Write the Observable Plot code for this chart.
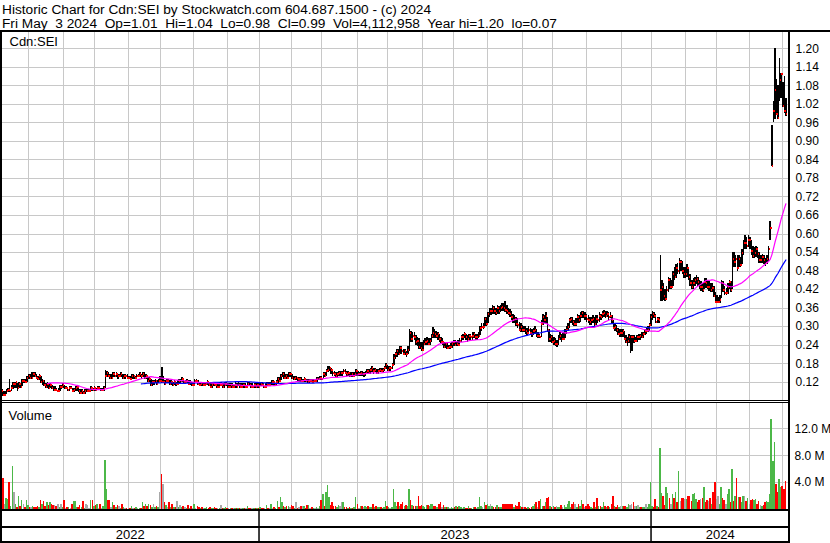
<!DOCTYPE html>
<html><head><meta charset="utf-8">
<script src="https://cdn.jsdelivr.net/npm/d3@7"></script>
<script src="https://cdn.jsdelivr.net/npm/@observablehq/plot@0.6"></script>
<style>
body{margin:0;background:#fff;}
#chart{position:relative;width:830px;height:543px;overflow:hidden;background:#fff;font-family:"Liberation Sans",Arial,sans-serif;}
#chart svg{position:absolute;left:0;overflow:visible;}
.hdr{position:absolute;left:2px;font-size:13.7px;line-height:15px;white-space:pre;color:#000;}
.ln{position:absolute;background:#000;}
</style></head><body><div id="chart"></div>
<script>
// ---- data (one entry per trading day, May 2022 - May 3 2024) ----
const hi = [
.095,.09,.09,.095,.10,.13,.11,.12,.12,.12,
.115,.12,.115,.13,.13,.13,.14,.145,.145,.15,
.15,.15,.145,.14,.145,.14,.13,.125,.115,.12,
.115,.115,.11,.105,.105,.10,.10,.11,.11,.115,
.11,.105,.10,.105,.105,.10,.10,.105,.105,.10,
.095,.095,.09,.095,.095,.095,.095,.105,.10,.105,
.10,.105,.105,.10,.10,.105,.158,.155,.15,.145,
.145,.15,.15,.15,.145,.145,.15,.145,.145,.145,
.145,.14,.14,.145,.145,.14,.145,.145,.15,.145,
.15,.15,.145,.14,.135,.13,.125,.125,.13,.125,
.13,.14,.168,.14,.125,.13,.13,.125,.125,.12,
.125,.12,.125,.13,.13,.135,.13,.125,.13,.125,
.125,.12,.12,.13,.13,.125,.12,.12,.12,.115,
.12,.125,.12,.115,.115,.12,.12,.115,.115,.12,
.12,.115,.12,.12,.115,.115,.115,.115,.11,.12,
.115,.12,.115,.115,.115,.115,.11,.12,.12,.115,
.115,.115,.115,.12,.115,.12,.12,.115,.115,.12,
.12,.12,.125,.125,.12,.125,.135,.135,.145,.15,
.15,.145,.145,.15,.152,.145,.14,.14,.14,.135,
.135,.135,.13,.135,.13,.13,.13,.13,.13,.13,
.13,.135,.135,.14,.14,.15,.15,.16,.171,.17,
.165,.16,.155,.15,.15,.155,.155,.155,.16,.16,
.155,.155,.15,.15,.15,.15,.16,.155,.15,.155,
.155,.15,.155,.16,.16,.165,.17,.165,.165,.16,
.16,.165,.165,.165,.17,.18,.175,.17,.17,.18,
.21,.215,.225,.225,.235,.235,.225,.225,.22,.235,
.29,.285,.28,.28,.27,.265,.26,.25,.25,.255,
.26,.265,.26,.26,.275,.297,.29,.285,.28,.275,
.265,.26,.25,.25,.245,.24,.245,.25,.255,.255,
.25,.255,.26,.27,.275,.28,.275,.27,.275,.275,
.28,.28,.275,.275,.28,.30,.31,.31,.33,.33,
.345,.36,.36,.37,.365,.36,.37,.365,.37,.375,
.375,.38,.37,.36,.355,.35,.34,.335,.33,.325,
.315,.31,.305,.30,.30,.295,.30,.295,.29,.295,
.30,.29,.28,.275,.32,.34,.335,.345,.33,.29,
.275,.27,.265,.26,.255,.27,.28,.275,.28,.29,
.30,.31,.325,.33,.33,.32,.325,.34,.335,.345,
.35,.35,.345,.34,.335,.33,.33,.335,.33,.335,
.335,.345,.34,.35,.352,.35,.35,.345,.345,.335,
.32,.31,.305,.295,.29,.29,.29,.285,.27,.265,
.275,.27,.27,.27,.265,.27,.275,.275,.28,.28,
.29,.295,.30,.31,.34,.35,.345,.34,.33,.33,
.53,.45,.44,.42,.43,.46,.455,.45,.48,.49,
.50,.505,.52,.515,.51,.49,.49,.50,.49,.47,
.45,.455,.46,.465,.46,.45,.445,.44,.455,.455,
.45,.445,.44,.44,.43,.41,.40,.395,.40,.45,
.445,.43,.425,.44,.45,.445,.54,.54,.53,.53,
.53,.525,.55,.58,.595,.59,.595,.59,.58,.56,
.555,.56,.555,.54,.53,.535,.53,.52,.53,.56,
.641,.95,1.03,1.20,1.10,1.08,1.17,1.12,1.09,1.11,1.04];
const lo = [
.075,.075,.075,.08,.085,.085,.09,.095,.10,.10,
.09,.10,.10,.105,.115,.115,.12,.13,.13,.13,
.135,.135,.13,.125,.125,.115,.11,.105,.10,.10,
.095,.10,.095,.09,.09,.09,.09,.09,.095,.10,
.095,.095,.09,.09,.095,.085,.085,.09,.09,.085,
.08,.08,.08,.08,.085,.085,.085,.09,.09,.09,
.09,.095,.095,.09,.09,.09,.10,.135,.135,.13,
.13,.135,.135,.135,.13,.135,.135,.13,.13,.13,
.13,.13,.13,.13,.13,.13,.13,.135,.135,.13,
.135,.13,.13,.12,.12,.105,.105,.11,.115,.11,
.115,.12,.115,.115,.11,.115,.115,.11,.11,.105,
.11,.105,.11,.115,.115,.12,.115,.115,.115,.11,
.11,.105,.105,.11,.115,.11,.105,.105,.105,.105,
.105,.11,.105,.10,.10,.105,.105,.10,.10,.105,
.105,.10,.10,.105,.10,.10,.10,.10,.10,.10,
.10,.105,.10,.10,.10,.10,.10,.105,.105,.10,
.10,.10,.10,.10,.10,.105,.105,.10,.10,.105,
.105,.105,.11,.11,.105,.11,.115,.12,.125,.135,
.13,.13,.13,.135,.135,.13,.125,.125,.125,.12,
.12,.12,.12,.12,.12,.115,.115,.12,.115,.12,
.12,.12,.125,.125,.125,.13,.135,.14,.15,.155,
.145,.14,.14,.135,.135,.14,.14,.14,.145,.145,
.14,.14,.135,.135,.135,.135,.14,.14,.14,.14,
.14,.135,.14,.145,.145,.145,.15,.145,.15,.145,
.145,.15,.15,.15,.155,.16,.155,.155,.155,.16,
.175,.195,.20,.205,.21,.21,.205,.205,.20,.21,
.22,.25,.25,.255,.24,.235,.225,.225,.22,.225,
.24,.24,.24,.24,.25,.26,.26,.26,.255,.25,
.245,.24,.23,.23,.225,.225,.225,.23,.235,.235,
.235,.235,.24,.25,.255,.26,.255,.25,.255,.255,
.255,.26,.255,.255,.26,.27,.285,.29,.30,.30,
.31,.33,.335,.34,.34,.335,.34,.34,.345,.35,
.35,.345,.34,.335,.33,.32,.31,.31,.30,.295,
.285,.28,.28,.28,.275,.27,.275,.27,.265,.27,
.275,.265,.26,.26,.265,.305,.31,.31,.28,.25,
.25,.245,.24,.235,.233,.24,.255,.25,.255,.26,
.275,.285,.295,.31,.305,.30,.30,.31,.31,.315,
.325,.325,.32,.315,.31,.305,.305,.31,.30,.305,
.31,.315,.32,.325,.33,.325,.33,.32,.325,.31,
.29,.285,.28,.27,.265,.265,.265,.255,.245,.235,
.245,.213,.22,.245,.25,.25,.255,.255,.26,.26,
.27,.275,.28,.285,.30,.32,.325,.31,.31,.31,
.38,.38,.385,.38,.385,.41,.42,.42,.43,.45,
.455,.47,.47,.48,.47,.455,.455,.46,.45,.43,
.42,.42,.43,.435,.43,.42,.415,.41,.42,.425,
.42,.415,.41,.41,.395,.375,.375,.375,.375,.39,
.41,.40,.40,.405,.42,.41,.42,.49,.49,.48,
.49,.49,.50,.53,.55,.55,.555,.55,.53,.52,
.52,.525,.52,.505,.505,.505,.50,.495,.50,.51,
.58,.82,.96,.97,.99,.97,1.03,1.04,1.01,.99,.98];
const cl = [
.09,.08,.08,.09,.095,.09,.10,.115,.115,.12,
.10,.115,.105,.125,.125,.12,.135,.14,.135,.135,
.145,.14,.135,.13,.14,.12,.125,.11,.105,.115,
.10,.11,.10,.095,.095,.09,.09,.105,.105,.11,
.10,.10,.095,.10,.10,.09,.095,.10,.105,.09,
.085,.09,.085,.09,.09,.09,.09,.10,.095,.10,
.095,.10,.10,.095,.095,.10,.14,.15,.14,.135,
.135,.145,.14,.145,.14,.14,.145,.135,.14,.14,
.135,.135,.13,.14,.14,.135,.14,.14,.145,.14,
.145,.135,.14,.125,.13,.11,.12,.12,.125,.115,
.125,.125,.12,.12,.115,.125,.125,.115,.12,.11,
.12,.115,.115,.125,.125,.13,.12,.12,.125,.115,
.12,.11,.11,.125,.125,.115,.11,.115,.11,.11,
.115,.12,.11,.105,.11,.115,.11,.105,.105,.11,
.11,.105,.11,.115,.105,.105,.11,.105,.105,.11,
.105,.11,.105,.105,.11,.105,.105,.115,.11,.105,
.105,.11,.105,.11,.105,.115,.11,.105,.105,.115,
.11,.11,.12,.12,.115,.12,.13,.125,.14,.145,
.135,.14,.135,.145,.145,.135,.13,.135,.135,.13,
.13,.125,.125,.13,.125,.12,.125,.125,.12,.125,
.125,.13,.13,.135,.13,.145,.14,.155,.16,.165,
.16,.15,.145,.14,.145,.15,.15,.15,.155,.15,
.145,.15,.14,.145,.14,.145,.155,.145,.145,.15,
.145,.145,.15,.155,.15,.16,.165,.155,.16,.15,
.155,.16,.155,.16,.165,.175,.16,.165,.165,.175,
.20,.21,.22,.21,.23,.22,.21,.22,.21,.225,
.28,.26,.27,.265,.25,.255,.235,.23,.225,.245,
.25,.255,.245,.255,.27,.28,.275,.27,.275,.26,
.25,.25,.235,.245,.23,.235,.235,.245,.25,.24,
.245,.24,.255,.265,.265,.275,.265,.26,.27,.265,
.27,.275,.265,.265,.27,.295,.30,.30,.325,.31,
.34,.35,.35,.36,.35,.345,.36,.35,.36,.365,
.36,.355,.35,.345,.34,.33,.32,.325,.31,.305,
.29,.30,.29,.29,.285,.28,.29,.28,.275,.285,
.29,.27,.27,.265,.31,.33,.32,.335,.29,.26,
.265,.25,.255,.245,.245,.26,.27,.26,.26,.28,
.29,.30,.32,.325,.315,.31,.31,.33,.32,.335,
.345,.335,.335,.325,.32,.315,.32,.325,.31,.325,
.32,.335,.33,.34,.345,.335,.34,.33,.335,.32,
.295,.30,.29,.275,.28,.28,.285,.26,.25,.255,
.265,.265,.265,.255,.255,.265,.265,.27,.265,.275,
.285,.285,.29,.305,.33,.34,.335,.315,.325,.32,
.42,.43,.40,.39,.42,.45,.43,.43,.47,.46,
.49,.48,.51,.51,.48,.47,.47,.49,.46,.44,
.43,.44,.45,.455,.445,.43,.43,.42,.445,.44,
.43,.43,.42,.425,.40,.38,.38,.38,.385,.44,
.42,.41,.41,.43,.445,.42,.52,.51,.52,.49,
.52,.50,.54,.57,.57,.56,.58,.58,.545,.53,
.54,.55,.535,.515,.515,.525,.515,.505,.52,.55,
.62,.82,1.00,1.065,.99,.975,1.10,1.12,1.015,1.00,.99];
const vol = [ // millions of shares
2.0,4.6,0.8,1.6,1.5,4.0,0.5,6.4,2.5,0.7,
0.3,1.9,0.5,1.4,0.8,0.3,1.3,0.6,0.3,0.3,
0.4,0.3,0.3,0.5,0.3,1.4,0.7,1.2,0.4,1.0,
0.6,1.0,0.8,0.6,0.6,0.5,0.7,0.3,0.7,0.3,
1.4,0.2,0.3,0.3,0.2,0.7,1.2,1.2,0.3,0.3,
0.6,0.3,1.2,0.2,0.7,0.6,0.2,1.3,1.3,0.5,
0.6,0.8,0.2,0.8,0.2,0.4,7.3,2.9,1.3,1.3,
0.3,1.0,0.6,0.3,0.6,0.4,0.2,0.7,0.3,0.2,
0.2,0.2,0.2,0.5,0.2,0.2,0.3,0.2,0.2,0.2,
1.0,0.4,0.7,0.4,0.7,0.6,0.3,0.7,0.3,0.4,
0.3,2.5,5.2,3.7,1.0,0.6,0.3,1.0,0.3,0.8,
0.3,0.3,1.2,0.3,0.6,0.3,0.4,0.3,0.2,0.6,
0.2,0.4,0.2,0.7,0.2,0.4,0.3,0.2,0.3,0.2,
0.2,0.3,0.2,0.3,0.2,0.2,0.3,0.1,0.2,0.2,
0.6,0.2,0.2,0.3,0.2,0.1,0.2,0.2,0.1,0.2,
0.2,0.1,0.2,0.1,0.2,0.2,0.1,0.4,0.2,0.2,
0.1,0.2,0.1,0.2,0.2,0.3,0.2,0.2,0.1,0.6,
0.2,0.2,0.8,0.2,0.3,0.2,1.2,0.3,1.8,1.0,
0.4,0.3,0.4,0.4,0.3,0.6,0.5,0.2,1.0,0.2,
0.3,0.5,0.4,0.5,0.2,0.6,0.6,0.2,0.3,0.2,
0.2,0.3,0.2,0.4,1.3,2.2,0.4,2.5,3.6,1.8,
0.6,1.1,0.5,0.4,0.3,0.6,0.5,1.0,1.0,0.3,
0.3,0.2,0.3,0.2,0.2,0.3,1.8,0.8,0.2,0.4,
0.4,0.3,0.4,0.3,0.4,0.3,0.3,0.8,0.3,0.4,
0.3,0.3,0.3,0.2,0.3,1.2,0.5,0.3,0.2,0.3,
3.0,1.0,0.4,1.1,0.5,0.8,1.1,0.4,0.6,0.4,
3.0,1.4,0.6,0.4,0.5,0.4,1.9,0.5,0.6,0.4,
0.3,0.6,0.6,0.4,0.8,0.7,0.5,0.4,0.3,0.8,
1.0,0.3,0.6,0.3,0.3,0.3,0.2,0.3,0.2,0.3,
0.4,0.3,0.4,0.3,0.2,0.3,0.2,0.2,0.4,0.2,
0.2,0.3,0.3,0.2,0.3,1.8,0.5,0.3,1.1,0.6,
0.8,0.4,0.7,0.4,0.3,0.3,0.6,0.3,0.3,0.3,
0.7,0.7,0.7,0.7,0.7,0.7,0.7,0.3,0.6,0.4,
1.0,0.4,0.3,0.3,0.3,0.2,0.3,0.2,0.3,0.5,
0.8,1.0,0.3,1.2,1.5,0.5,0.5,1.0,1.6,1.8,
0.4,0.3,0.4,0.3,0.4,0.3,0.3,0.6,0.3,0.6,
0.3,0.7,1.2,0.3,0.8,1.1,0.7,0.3,0.7,0.4,
1.3,0.8,0.3,0.5,0.7,0.4,0.3,0.2,1.0,0.3,
1.6,0.5,0.4,0.3,1.0,0.4,0.3,0.5,0.3,0.7,
1.9,0.4,0.3,0.6,0.3,0.5,0.5,0.5,0.4,0.3,
0.7,0.6,0.7,1.0,0.4,0.4,0.6,0.3,0.3,0.3,
0.3,0.7,0.3,0.8,4.0,0.4,0.3,1.5,0.5,0.3,
9.1,2.4,1.9,0.6,3.2,2.4,1.7,0.8,2.2,1.7,
2.6,1.0,5.6,1.2,1.7,1.7,1.5,1.5,2.0,2.0,
1.2,2.2,2.4,1.5,1.0,1.3,1.5,1.7,3.3,1.0,
1.4,1.2,1.7,0.8,2.6,4.0,1.5,1.9,0.8,3.2,
1.7,1.4,0.8,2.2,3.0,1.0,5.9,1.2,1.9,4.6,
1.8,1.8,1.0,1.9,2.0,1.2,1.7,0.8,1.4,1.5,
1.4,1.5,0.8,1.2,0.6,0.5,0.6,1.0,1.2,1.0,
2.2,13.4,7.1,10.0,3.7,2.5,4.4,3.2,3.4,3.0,4.1];
const priceTicks = [0.12,0.18,0.24,0.30,0.36,0.42,0.48,0.54,0.60,0.66,0.72,0.78,0.84,0.90,0.96,1.02,1.08,1.14,1.20];
const volTicks = [4, 8, 12];
const monthStarts = [17,39,59,81,101,122,144,164,185,204,227,246,268,288,310,332,351,373,395,414,436,456,477,498];
const years = ["2022", "2023", "2024"];
const yearStarts = [164, 414];
const headerLines = [
  "Historic Chart for Cdn:SEI by Stockwatch.com 604.687.1500 - (c) 2024",
  "Fri May  3 2024  Op=1.01  Hi=1.04  Lo=0.98  Cl=0.99  Vol=4,112,958  Year hi=1.20  lo=0.07"
];

// ---- build ----
const bars = cl.map((c, i) => ({i, hi: hi[i], lo: lo[i], cl: c, vol: vol[i],
  dir: i === 0 ? 0 : Math.sign(Math.round((c - cl[i - 1]) * 1000))}));
const xDomain = [-0.22, 502.3];
const FONT = '"Liberation Sans", Arial, sans-serif';
const GRID = "#c8c8c8";
const style = {fontFamily: FONT, fontSize: "12px", color: "#000", background: "transparent", overflow: "visible"};
const chart = document.getElementById("chart");

headerLines.forEach((t, k) => {
  const d = document.createElement("div");
  d.className = "hdr"; d.style.top = (2 + k * 14.3) + "px"; d.textContent = t;
  chart.appendChild(d);
});

const price = Plot.plot({
  width: 830, height: 370, marginLeft: 1, marginRight: 41, marginTop: 1, marginBottom: 0,
  style,
  x: {domain: xDomain, axis: null},
  y: {domain: [0.0607, 1.2561], axis: "right", ticks: priceTicks, tickFormat: d3.format(".2f"), tickSize: 0, tickPadding: 6, label: null},
  marks: [
    Plot.ruleY(priceTicks, {stroke: GRID, shapeRendering: "crispEdges"}),
    Plot.ruleX(monthStarts, {stroke: GRID, shapeRendering: "crispEdges"}),
    Plot.ruleX(bars, {x: "i", y1: "lo", y2: "hi", stroke: "#000", strokeWidth: 1.5, shapeRendering: "crispEdges"}),
    Plot.link(bars, {x1: "i", x2: d => d.i + 0.9, y1: "cl", y2: "cl", stroke: "#ff0000", strokeWidth: 2, shapeRendering: "crispEdges"}),
    Plot.line(bars, Plot.windowY({k: 90, anchor: "end", reduce: "mean", strict: true}, {x: "i", y: "cl", stroke: "#0000ff", strokeWidth: 1.2})),
    Plot.line(bars, Plot.windowY({k: 30, anchor: "end", reduce: "mean", strict: true}, {x: "i", y: "cl", stroke: "#ff00ff", strokeWidth: 1.2})),
    Plot.text(["Cdn:SEI"], {frameAnchor: "top-left", dx: 8, dy: 5, textAnchor: "start", lineAnchor: "top", fontSize: 13, fill: "#000"})
  ]
});
price.style.top = "30px";
chart.appendChild(price);

const volume = Plot.plot({
  width: 830, height: 107, marginLeft: 1, marginRight: 41, marginTop: 0, marginBottom: 0,
  style,
  x: {domain: xDomain, axis: null},
  y: {domain: [0, 15.9], axis: "right", ticks: volTicks, tickFormat: d => d.toFixed(1) + " M", tickSize: 0, tickPadding: 5, label: null},
  marks: [
    Plot.ruleY(volTicks, {stroke: GRID, shapeRendering: "crispEdges"}),
    Plot.ruleX(monthStarts, {stroke: GRID, shapeRendering: "crispEdges"}),
    Plot.rect(bars, {x1: d => d.i - 0.5, x2: d => d.i + 0.45, y1: 0, y2: "vol",
      fill: d => d.dir > 0 ? "#4cb848" : d.dir < 0 ? "#ff0000" : "#a8a8a8", shapeRendering: "crispEdges"}),
    Plot.text(["Volume"], {frameAnchor: "top-left", dx: 7, dy: 8, textAnchor: "start", lineAnchor: "top", fontSize: 13, fill: "#000"})
  ]
});
volume.style.top = "402px";
chart.appendChild(volume);

const bounds = [xDomain[0], ...yearStarts, xDomain[1]];
const band = Plot.plot({
  width: 830, height: 34, marginLeft: 1, marginRight: 41, marginTop: 0, marginBottom: 0,
  style,
  x: {domain: xDomain, axis: null},
  y: {domain: [0, 1], axis: null},
  marks: [
    Plot.ruleX(yearStarts, {stroke: "#000", strokeWidth: 1.5}),
    Plot.text(years, {x: (d, k) => (bounds[k] + bounds[k + 1]) / 2, y: 0.25, text: d => d, fontSize: 13, fill: "#000"})
  ]
});
band.style.top = "509px";
chart.appendChild(band);

// panel borders
[[0,30,830,2],[0,30,2,513],[788,30,2,513],[0,400,789,1],[0,402,789,1],[0,509,789,2],[0,526,789,2],[0,541,789,2]]
  .forEach(([l,t,w,h]) => {
    const d = document.createElement("div");
    d.className = "ln";
    Object.assign(d.style, {left: l + "px", top: t + "px", width: w + "px", height: h + "px"});
    chart.appendChild(d);
  });
</script></body></html>
